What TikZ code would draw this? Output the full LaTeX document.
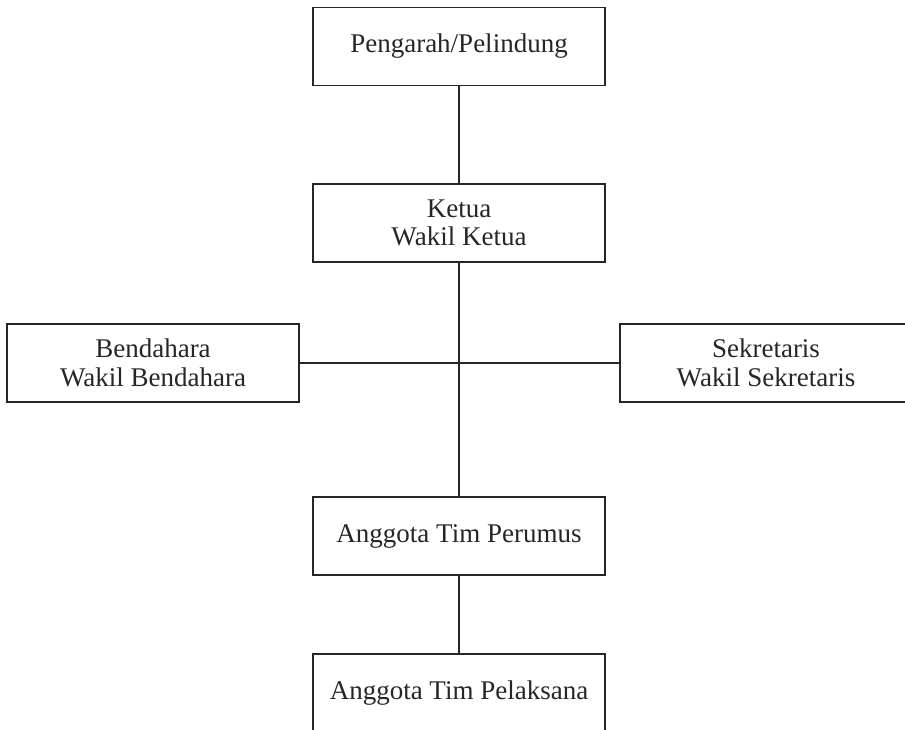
\documentclass[tikz,border=0pt]{standalone}
\usepackage{fontspec}
\setmainfont{Liberation Serif}
\begin{document}
\begin{tikzpicture}[x=1pt,y=-1pt,
  orgbox/.style={draw=black!85, line width=1.2pt, minimum width=292pt, minimum height=78pt,
    inner sep=0pt, align=center, font=\fontsize{27}{28.5}\selectfont, text=black!85},
  link/.style={draw=black!85, line width=1.2pt}]
\useasboundingbox (0,0) rectangle (905,729);
\clip (0,0) rectangle (905,729);
\node[orgbox] (top) at (459,46.5) {Pengarah/Pelindung};
\node[orgbox] (ketua) at (459,223) {Ketua\\Wakil Ketua};
\node[orgbox] (bend) at (153,363) {Bendahara\\Wakil Bendahara};
\node[orgbox] (sek) at (766,363) {Sekretaris\\Wakil Sekretaris};
\node[orgbox] (perumus) at (459,536) {Anggota Tim Perumus};
\node[orgbox] (pelaksana) at (459,693) {Anggota Tim Pelaksana};
\draw[link] (top) -- (ketua);
\draw[link] (ketua) -- (perumus);
\draw[link] (bend.east) -- (sek.west);
\draw[link] (perumus) -- (pelaksana);
\end{tikzpicture}
\end{document}
